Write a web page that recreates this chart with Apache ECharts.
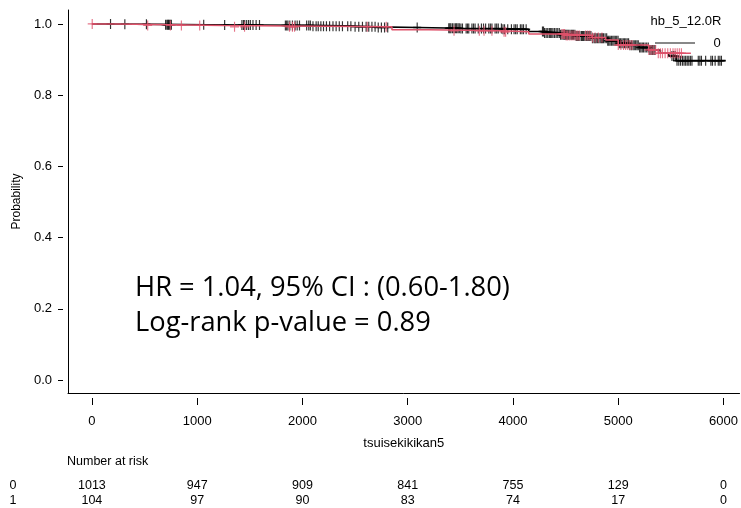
<!DOCTYPE html>
<html><head><meta charset="utf-8">
<script src="https://cdn.jsdelivr.net/npm/echarts@6/dist/echarts.min.js"></script>
<style>html,body{margin:0;padding:0;background:#fff}#c{width:741px;height:508px}</style>
</head><body><div id="c"></div>
<script>
// ---- data ----
const timeTicks = [0, 1000, 2000, 3000, 4000, 5000, 6000];
const probTicks = [0, 0.2, 0.4, 0.6, 0.8, 1.0];
const strataNames = ['0', '1'];
const legendTitle = 'hb_5_12.0R';
const xTitle = 'tsuisekikikan5';
const yTitle = 'Probability';
const hrLine1 = 'HR = 1.04, 95% CI : (0.60-1.80)';
const hrLine2 = 'Log-rank p-value = 0.89';

// group 0 (black) KM steps
const g0Times = [0, 180, 650, 1100, 1600, 2100, 2500, 2700, 3100, 3500, 3900, 4150, 4300, 4450, 4600, 4750, 4900, 5000, 5100, 5200, 5300, 5400, 5480, 5550, 6020];
const g0Surv  = [1.0, 0.999, 0.998, 0.997, 0.996, 0.994, 0.992, 0.990, 0.988, 0.987, 0.985, 0.979, 0.975, 0.970, 0.966, 0.960, 0.953, 0.946, 0.940, 0.934, 0.927, 0.918, 0.910, 0.897, 0.897];
// group 1 (red) KM steps
const g1Times = [0, 240, 1250, 2850, 3200, 3900, 4150, 4500, 4750, 4880, 5000, 5290, 5380, 5690];
const g1Surv  = [1.0, 0.996, 0.992, 0.984, 0.981, 0.978, 0.972, 0.968, 0.962, 0.955, 0.941, 0.927, 0.918, 0.918];

// censor times
const g0Censor = [177, 313, 518, 700, 712, 720, 728, 735, 745, 755, 1062, 1261, 1425, 1440, 1452, 1470, 1488, 1505, 1530, 1560, 1592,
  1838, 1850, 1862, 1880, 1905, 1930, 1950, 1972, 2040, 2060, 2075, 2100, 2130, 2150, 2175, 2200, 2228, 2258, 2290, 2320, 2350, 2380,
  2430, 2460, 2500, 2535, 2570, 2605, 2630, 2660, 2690, 2720, 2750, 2780, 2810, 3090, 3390, 3400, 3410, 3425, 3440, 3455, 3465, 3478,
  3490, 3505, 3520, 3555, 3568, 3580, 3610, 3625, 3640, 3670, 3700, 3720, 3740, 3770, 3785, 3800, 3830, 3845, 3860, 3890, 3905, 3920,
  3950, 3985, 4010, 4025, 4040, 4070, 4085, 4100, 4125, 4280, 4290, 4300, 4315, 4330, 4345, 4355, 4368, 4380, 4395, 4410, 4425, 4440,
  4452, 4465, 4478, 4490, 4500, 4510, 4520, 4530, 4542, 4555, 4565, 4575, 4588, 4600, 4610, 4620, 4635, 4650, 4660, 4670, 4683, 4695,
  4705, 4715, 4728, 4740, 4755, 4770, 4780, 4790, 4803, 4815, 4828, 4840, 4850, 4860, 4875, 4890, 4900, 4910, 4922, 4935, 4948, 4960,
  4972, 4985, 4998, 5010, 5022, 5035, 5048, 5060, 5072, 5085, 5098, 5110, 5125, 5140, 5152, 5165, 5178, 5190, 5203, 5215, 5228, 5240,
  5255, 5270, 5285, 5300, 5312, 5325, 5338, 5350, 5510, 5525, 5540, 5558, 5575, 5592, 5610, 5625, 5640, 5655, 5670, 5685, 5700,
  5760, 5775, 5790, 5830, 5880, 5895, 5920, 5950, 5965, 5980];
const g1Censor = [3, 530, 746, 850, 1024, 1355, 1450, 1877, 1905, 1925, 2616, 2796, 3440, 3680, 3725, 3800, 3915, 3930, 4465, 4478, 4490,
  4505, 4520, 4540, 4560, 4580, 4600, 4615, 4630, 4690, 4710, 4730, 4755, 4780, 4810, 4845, 5000, 5025, 5050, 5070, 5090, 5110, 5130,
  5290, 5310, 5330, 5355, 5380, 5400, 5420, 5445, 5470, 5495, 5520, 5540, 5560, 5580, 5600];

// number at risk
const riskTimes = [0, 1000, 2000, 3000, 4000, 5000, 6000];
const risk0 = [1013, 947, 909, 841, 755, 129, 0];
const risk1 = [104, 97, 90, 83, 74, 17, 0];

// ---- helpers ----
function survAt(times, surv, t) {
  let v = surv[0];
  for (let i = 0; i < times.length; i++) { if (times[i] <= t) v = surv[i]; }
  return v;
}
const zip = (a, b) => a.map((v, i) => [v, b[i]]);

const BLACK = '#000000';
const RED = '#DF536B';
const FONT = 'Liberation Sans';
const plusPath = 'path://M4,0L4,9M0,4.5L8,4.5';

const xRange = { min: -227, max: 6152 };
const yRange = { min: -0.0365, max: 1.0393 };

const chart = echarts.init(document.getElementById('c'), null, { renderer: 'canvas' });

const option = {
  animation: false,
  backgroundColor: '#fff',
  grid: { left: 68, right: 0, top: 10, bottom: 115 },
  xAxis: [
    { type: 'value', min: xRange.min, max: xRange.max, position: 'bottom',
      axisLine: { show: true, onZero: false, lineStyle: { color: '#000', width: 1 } },
      axisTick: { show: false }, axisLabel: { show: false }, splitLine: { show: false } },
    { type: 'value', min: xRange.min, max: xRange.max, position: 'bottom', offset: 5,
      axisLine: { show: false, onZero: false },
      axisTick: { show: true, length: 7, lineStyle: { color: '#000' }, customValues: timeTicks },
      axisLabel: { show: true, margin: 17, color: '#000', fontFamily: FONT, fontSize: 13, customValues: timeTicks,
        formatter: v => String(v) },
      splitLine: { show: false },
      name: xTitle, nameLocation: 'middle', nameGap: 39,
      nameTextStyle: { color: '#000', fontFamily: FONT, fontSize: 13 } }
  ],
  yAxis: [
    { type: 'value', min: yRange.min, max: yRange.max, position: 'left',
      axisLine: { show: true, onZero: false, lineStyle: { color: '#000', width: 1 } },
      axisTick: { show: false }, axisLabel: { show: false }, splitLine: { show: false } },
    { type: 'value', min: yRange.min, max: yRange.max, position: 'left', offset: 5,
      axisLine: { show: false, onZero: false },
      axisTick: { show: true, length: 5, lineStyle: { color: '#000' }, customValues: probTicks },
      axisLabel: { show: true, margin: 11, color: '#000', fontFamily: FONT, fontSize: 13, customValues: probTicks,
        formatter: v => v.toFixed(1) },
      splitLine: { show: false },
      name: yTitle, nameLocation: 'middle', nameGap: 36, nameRotate: 90,
      nameTextStyle: { color: '#000', fontFamily: FONT, fontSize: 12 } }
  ],
  series: [
    { type: 'line', step: 'end', data: zip(g0Times, g0Surv), showSymbol: false, symbol: 'none',
      lineStyle: { color: BLACK, width: 1.6 }, z: 3 },
    { type: 'line', step: 'end', data: zip(g1Times, g1Surv), showSymbol: false, symbol: 'none',
      lineStyle: { color: RED, width: 1.5 }, z: 4 },
    { type: 'scatter', data: g0Censor.map(t => [t, survAt(g0Times, g0Surv, t)]),
      symbol: plusPath, symbolSize: [8, 10],
      itemStyle: { color: 'none', borderColor: BLACK, borderWidth: 1.3 }, z: 3 },
    { type: 'scatter', data: g1Censor.map(t => [t, survAt(g1Times, g1Surv, t)]),
      symbol: plusPath, symbolSize: [9, 10],
      itemStyle: { color: 'none', borderColor: RED, borderWidth: 1.2 }, z: 4 }
  ]
};
chart.setOption(option);

// graphics: legend, HR text, risk table (positions of numbers from the x scale)
const g = [];
g.push({ type: 'text', x: 686, y: 21, style: { text: legendTitle, fill: '#000', font: '13px ' + FONT, align: 'center', verticalAlign: 'middle' } });
g.push({ type: 'line', shape: { x1: 655, y1: 43, x2: 695, y2: 43 }, style: { stroke: '#888', lineWidth: 2 } });
g.push({ type: 'text', x: 717, y: 43, style: { text: strataNames[0], fill: '#000', font: '13px ' + FONT, align: 'center', verticalAlign: 'middle' } });

g.push({ type: 'text', x: 135, y: 288, style: { text: hrLine1, fill: '#000', font: '27.3px "Open Sans"', align: 'left', verticalAlign: 'middle' } });
g.push({ type: 'text', x: 135, y: 323, style: { text: hrLine2, fill: '#000', font: '27.3px "Open Sans"', align: 'left', verticalAlign: 'middle' } });

g.push({ type: 'text', x: 67, y: 462, style: { text: 'Number at risk', fill: '#000', font: '12.5px ' + FONT, align: 'left', verticalAlign: 'middle' } });
const rows = [risk0, risk1];
const rowY = [486, 501];
rows.forEach((row, r) => {
  g.push({ type: 'text', x: 13, y: rowY[r], style: { text: strataNames[r], fill: '#000', font: '12.5px ' + FONT, align: 'center', verticalAlign: 'middle' } });
  row.forEach((v, i) => {
    const px = chart.convertToPixel({ xAxisIndex: 0 }, riskTimes[i]);
    g.push({ type: 'text', x: px, y: rowY[r], style: { text: String(v), fill: '#000', font: '12.5px ' + FONT, align: 'center', verticalAlign: 'middle' } });
  });
});
chart.setOption({ graphic: g });
</script>
</body></html>
